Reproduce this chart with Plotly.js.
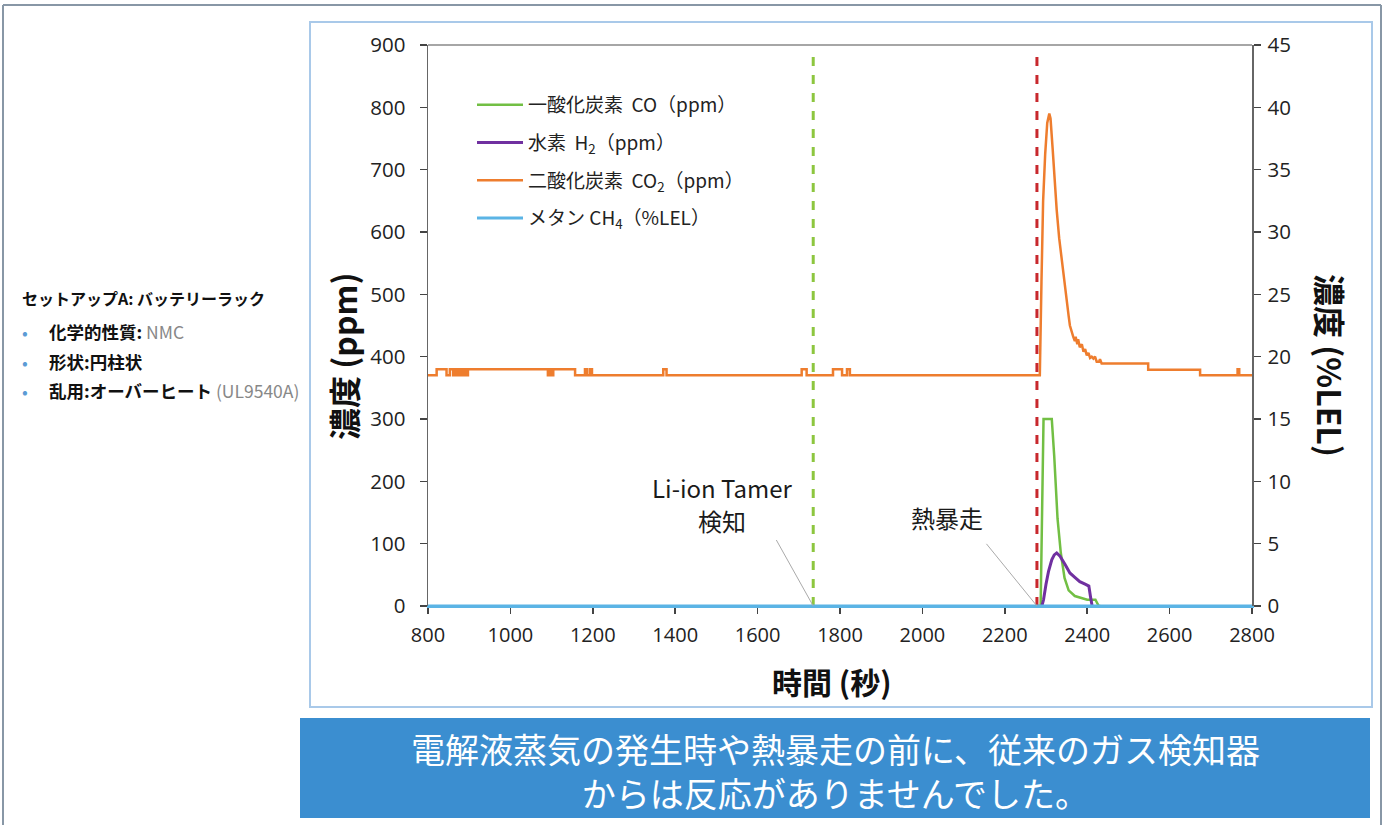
<!DOCTYPE html>
<html><head><meta charset="utf-8">
<script src="https://cdn.plot.ly/plotly-3.0.1.min.js"></script>
<style>html,body{margin:0;padding:0;background:#fff;}#chart{width:1387px;height:825px;}</style>
</head><body><div id="chart"></div>
<script>
// ---- data ----
const co2Time = [800,821,821,845,845,853,853,861,861,866,866,871,871,876,876,881,881,886,886,891,891,897,897,
  1091,1091,1095,1095,1099,1099,1104,1104,1157,1157,1181,1181,1186,1186,1193,1193,1198,1198,1371,1371,1379,1379,
  1707,1707,1719,1719,1783,1783,1805,1805,1817,1817,1824,1824,
  2285,2289,2293,2298,2303,2308,2311,2316,2320,2326,2332,2338,2344,2350,2355,2358,2362,2366,2370,2372,2376,2378,
  2382,2387,2391,2395,2399,2403,2407,2411,2415,2419,2423,2429,2431,2435,2439,2548,2548,2674,2674,2765,2765,2769,2769,2800];
const co2Ppm = [370,370,380,380,370,370,380,380,370,370,380,380,370,370,380,380,370,370,380,380,370,370,380,
  380,370,370,380,380,370,370,380,380,370,370,380,380,370,370,380,380,370,370,380,380,370,
  370,380,380,370,370,380,380,370,370,380,380,370,
  370,520,650,725,775,790,782,735,690,635,590,555,525,495,465,450,440,432,425,432,420,428,
  415,420,408,412,402,406,398,400,397,400,392,392,396,389,389,389,379,379,370,370,380,380,370,370];
const coTime = [2280,2287,2294,2314,2320,2328,2336,2345,2355,2370,2400,2420,2428,2432];
const coPpm  = [0,0,300,300,240,140,85,45,25,16,10,10,0,0];
const h2Time = [2290,2294,2300,2306,2314,2320,2326,2334,2346,2358,2370,2382,2395,2404,2408,2412];
const h2Ppm  = [0,10,35,55,74,82,85,80,67,53,46,39,35,32,15,0];
const ch4Time = [800,2800];
const ch4Lel  = [0,0];
const eventTime = [1735, 2278];           // Li-ion Tamer detection, thermal runaway
const eventTop = 885;
const xTicks = [800,1000,1200,1400,1600,1800,2000,2200,2400,2600,2800];
const yTicks = [0,100,200,300,400,500,600,700,800,900];
const y2Ticks = [0,5,10,15,20,25,30,35,40,45];
const seriesNames = ['一酸化炭素  CO（ppm）','水素  H<sub>2</sub>（ppm）','二酸化炭素  CO<sub>2</sub>（ppm）','メタン CH<sub>4</sub>（%LEL）'];

// ---- layout helpers ----
const W=1387,H=825,L=428,R=1252,T=45,B=606;
const px=x=>(x-L)/(R-L), py=y=>(B-y)/(B-T);
const CJK='"Noto Sans CJK JP", "Open Sans", sans-serif';
const NUM='"Open Sans", "Noto Sans", sans-serif';

const traces = [
  {x:co2Time,y:co2Ppm,type:'scatter',mode:'lines',name:seriesNames[2],line:{color:'#ee7d2e',width:2.5},legendgroup:'c',legendrank:3},
  {x:coTime,y:coPpm,type:'scatter',mode:'lines',name:seriesNames[0],line:{color:'#72bf44',width:2.5},legendgroup:'a',legendrank:1},
  {x:h2Time,y:h2Ppm,type:'scatter',mode:'lines',name:seriesNames[1],line:{color:'#7030a0',width:3},legendgroup:'b',legendrank:2},
  {x:[eventTime[0],eventTime[0]],y:[0,eventTop],type:'scatter',mode:'lines',showlegend:false,hoverinfo:'skip',line:{color:'#8dc63f',width:3,dash:'dash'}},
  {x:[eventTime[1],eventTime[1]],y:[0,eventTop],type:'scatter',mode:'lines',showlegend:false,hoverinfo:'skip',line:{color:'#c8282d',width:3,dash:'dash'}},
  {x:ch4Time,y:ch4Lel,type:'scatter',mode:'lines',name:seriesNames[3],yaxis:'y2',line:{color:'#5bb4e5',width:3},legendgroup:'d',legendrank:4}
];

const A=(x,y,text,font,extra)=>Object.assign({xref:'paper',yref:'paper',x:px(x),y:py(y),xanchor:'center',yanchor:'middle',text:text,showarrow:false,font:font},extra||{});
const annotations = [
  A(722,487,'Li-ion Tamer',{family:CJK,size:24,color:'#1a1a1a'}),
  A(722,520,'検知',{family:CJK,size:24,color:'#1a1a1a'}),
  A(947,517,'熱暴走',{family:CJK,size:24,color:'#1a1a1a'}),
  {x:eventTime[0],y:0,xref:'x',yref:'y',text:' ',font:{size:1},showarrow:true,arrowhead:0,arrowwidth:1,arrowcolor:'#aaa',ax:-38,ay:-68,standoff:0},
  {x:eventTime[1],y:0,xref:'x',yref:'y',text:' ',font:{size:1},showarrow:true,arrowhead:0,arrowwidth:1,arrowcolor:'#aaa',ax:-52,ay:-64,standoff:0},
  A(343,356,'<b>濃度 (ppm)</b>',{family:CJK,size:32,color:'#111'},{textangle:-90}),
  A(1331,365,'<b>濃度 (%LEL)</b>',{family:CJK,size:32,color:'#111'},{textangle:90}),
  A(832,681,'<b>時間 (秒)</b>',{family:CJK,size:30,color:'#111'}),
  A(20,298,'<b>セットアップA: バッテリーラック</b>',{family:CJK,size:16,color:'#111'},{xanchor:'left'}),
  A(20,331,'<span style="color:#5b9bd5">•</span>',{family:CJK,size:17},{xanchor:'left'}),
  A(20,361,'<span style="color:#5b9bd5">•</span>',{family:CJK,size:17},{xanchor:'left'}),
  A(20,391,'<span style="color:#5b9bd5">•</span>',{family:CJK,size:17},{xanchor:'left'}),
  A(47,331,'<b>化学的性質:</b> <span style="color:#888">NMC</span>',{family:CJK,size:17.5,color:'#111'},{xanchor:'left'}),
  A(47,361,'<b>形状:円柱状</b>',{family:CJK,size:17.5,color:'#111'},{xanchor:'left'}),
  A(47,391,'<b>乱用:オーバーヒート</b> <span style="color:#888">(UL9540A)</span>',{family:CJK,size:17.5,color:'#111'},{xanchor:'left'}),
  A(835,770,'電解液蒸気の発生時や熱暴走の前に、従来のガス検知器<br>からは反応がありませんでした。',{family:CJK,size:34,color:'#fff'},{align:'center'})
];

const shapes = [
  {type:'line',xref:'paper',yref:'paper',x0:px(3),x1:px(1381),y0:py(5),y1:py(5),line:{color:'#8897a6',width:2}},
  {type:'line',xref:'paper',yref:'paper',x0:px(3),x1:px(3),y0:py(5),y1:py(830),line:{color:'#8897a6',width:2}},
  {type:'line',xref:'paper',yref:'paper',x0:px(1381),x1:px(1381),y0:py(5),y1:py(830),line:{color:'#8897a6',width:2}},
  {type:'rect',xref:'paper',yref:'paper',x0:px(310),x1:px(1372),y0:py(22),y1:py(707),line:{color:'#a9c9e9',width:2},fillcolor:'rgba(0,0,0,0)',layer:'below'},
  {type:'rect',xref:'paper',yref:'paper',x0:px(300),x1:px(1370),y0:py(718),y1:py(818),line:{width:0},fillcolor:'#3b8ed0',layer:'below'},
  {type:'line',xref:'paper',yref:'paper',x0:0,x1:1,y0:1,y1:1,line:{color:'#888',width:1.5}}
];

const layout = {
  width:W,height:H,
  margin:{l:L,r:W-R,t:T,b:H-B,pad:0},
  paper_bgcolor:'#ffffff',plot_bgcolor:'rgba(0,0,0,0)',
  showlegend:true,
  legend:{x:px(472),y:py(86),xanchor:'left',yanchor:'top',bgcolor:'rgba(0,0,0,0)',font:{family:CJK,size:19,color:'#222'},tracegroupgap:10,traceorder:'grouped',itemwidth:46},
  xaxis:{range:[800,2800],tickvals:xTicks,ticktext:xTicks.map(String),ticks:'outside',ticklen:6,tickcolor:'#444',tickwidth:1.5,
    showline:true,linecolor:'#5bb4e5',linewidth:2,showgrid:false,zeroline:false,ticklabelstandoff:4,
    tickfont:{family:NUM,size:20,color:'#222'}},
  yaxis:{range:[0,900],tickvals:yTicks,ticktext:yTicks.map(String),ticks:'outside',ticklen:7,tickcolor:'#444',tickwidth:1.5,
    showline:true,linecolor:'#666',linewidth:1.5,showgrid:false,zeroline:false,ticklabelstandoff:10,
    tickfont:{family:NUM,size:20.5,color:'#222'}},
  yaxis2:{range:[0,45],overlaying:'y',side:'right',tickvals:y2Ticks,ticktext:y2Ticks.map(String),ticks:'outside',ticklen:7,tickcolor:'#444',tickwidth:1.5,
    showline:true,linecolor:'#666',linewidth:1.5,showgrid:false,zeroline:false,ticklabelstandoff:3,
    tickfont:{family:NUM,size:20.5,color:'#222'}},
  annotations:annotations,
  shapes:shapes
};
Plotly.newPlot('chart',traces,layout,{displayModeBar:false,staticPlot:true});
</script></body></html>
